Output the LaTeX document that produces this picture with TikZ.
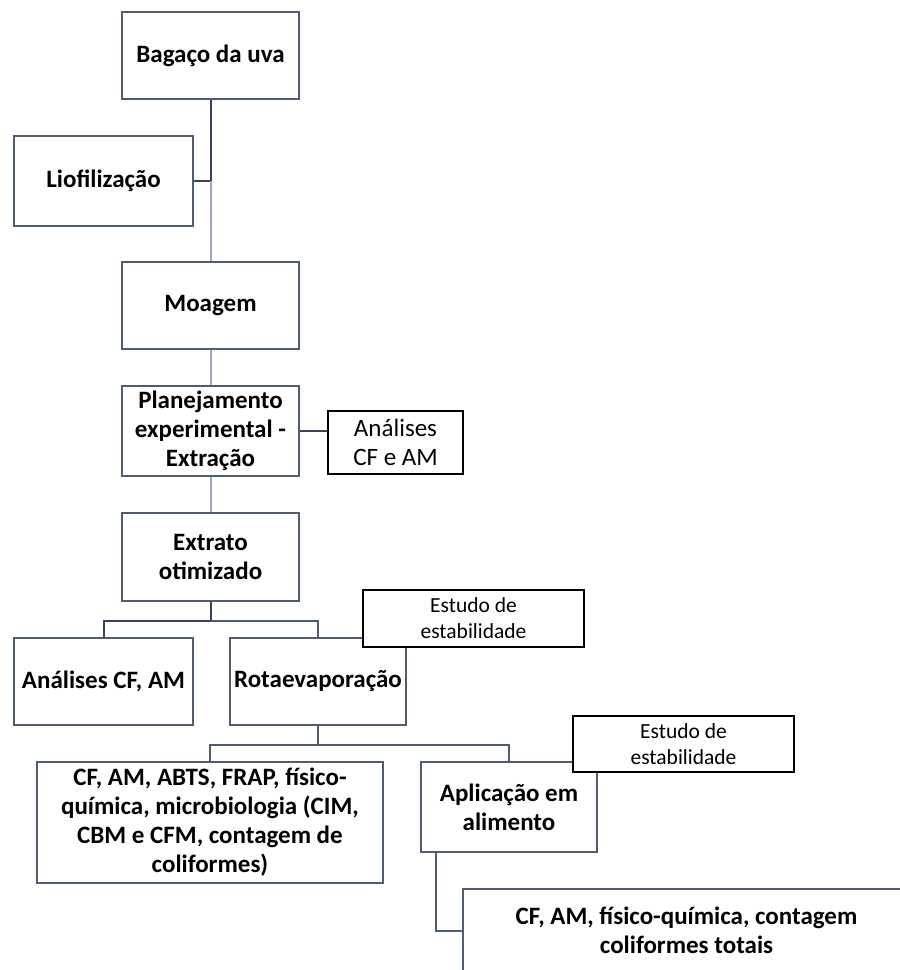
\documentclass[tikz,border=0pt]{standalone}
\usepackage{fontspec}
\setmainfont{Carlito}
\usepackage{tikz}

\definecolor{boxline}{RGB}{80,92,112}
\definecolor{darkline}{RGB}{58,68,86}
\definecolor{lightline}{RGB}{158,166,180}

\begin{document}
\begin{tikzpicture}[x=0.5pt, y=-0.5pt, line width=1pt,
	stage/.style={draw=boxline, fill=white, align=center, inner sep=0pt, font=\fontsize{12.5}{14.5}\selectfont\bfseries},
	note/.style={draw=black, fill=white, align=center, inner sep=0pt, font=\fontsize{12.5}{14.5}\selectfont},
	smallnote/.style={draw=black, fill=white, align=center, inner sep=0pt, font=\fontsize{10.75}{13}\selectfont},
	dk/.style={draw=darkline}, lt/.style={draw=lightline}, md/.style={draw=boxline}]
	\useasboundingbox (0,0) rectangle (900,970);
	\node[stage, minimum width=88.5pt, minimum height=43.5pt] (bagaco) at (210.5,55.5) {Bagaço da uva};
	\node[stage, minimum width=89.5pt, minimum height=45pt] (liof) at (103.5,181) {Liofilização};
	\node[stage, minimum width=88.5pt, minimum height=43.5pt] (moagem) at (210.5,305.5) {Moagem};
	\node[stage, minimum width=88.5pt, minimum height=45pt] (plan) at (210.5,431) {Planejamento\\experimental -\\Extração};
	\node[note, minimum width=67.5pt, minimum height=31.5pt] (cfam1) at (395.5,442.5) {Análises\\CF e AM};
	\node[stage, minimum width=88.5pt, minimum height=44pt] (extrato) at (210.5,557) {Extrato\\otimizado};
	\node[stage, minimum width=89.5pt, minimum height=43.5pt] (analcf) at (103.5,681.5) {Análises CF, AM};
	\node[stage, minimum width=88pt, minimum height=43.5pt] (rotaev) at (318,681.5) {Rotaevaporação};
	\node[stage, minimum width=173pt, minimum height=60.5pt] (cfam2) at (210,822.5) {CF, AM, ABTS, FRAP, físico-\\química, microbiologia (CIM,\\CBM e CFM, contagem de\\coliformes)};
	\node[stage, minimum width=88pt, minimum height=45pt] (aplic) at (509,807) {Aplicação em\\alimento};
	\node[stage, minimum width=223.5pt, minimum height=41.5pt] (final) at (686.5,930.5) {CF, AM, físico-química, contagem\\coliformes totais};

	\draw[dk] (bagaco.south) |- (liof.east);
	\draw[lt] (liof.east -| moagem.north) -- (moagem.north);
	\draw[lt] (moagem.south) -- (plan.north);
	\draw[darkline] (plan.east) -- (plan.east -| cfam1.west);
	\draw[lt] (plan.south) -- (extrato.north);
	\draw[dk] (extrato.south) -- ++(0,19) -| (analcf.north);
	\draw[md] (extrato.south) ++(0,19) -| (rotaev.north);
	\draw[md] (rotaev.south) -- ++(0,19) -| (cfam2.north);
	\draw[md] (rotaev.south) ++(0,19) -| (aplic.north);
	\draw[md] ([xshift=8pt]aplic.south west) |- (final.west);

	\node[smallnote, minimum width=110.5pt, minimum height=28.5pt] (estudoA) at (473.5,618.5) {Estudo de\\estabilidade};
	\node[smallnote, minimum width=110.5pt, minimum height=28pt] (estudoB) at (683.5,744) {Estudo de\\estabilidade};
\end{tikzpicture}
\end{document}
